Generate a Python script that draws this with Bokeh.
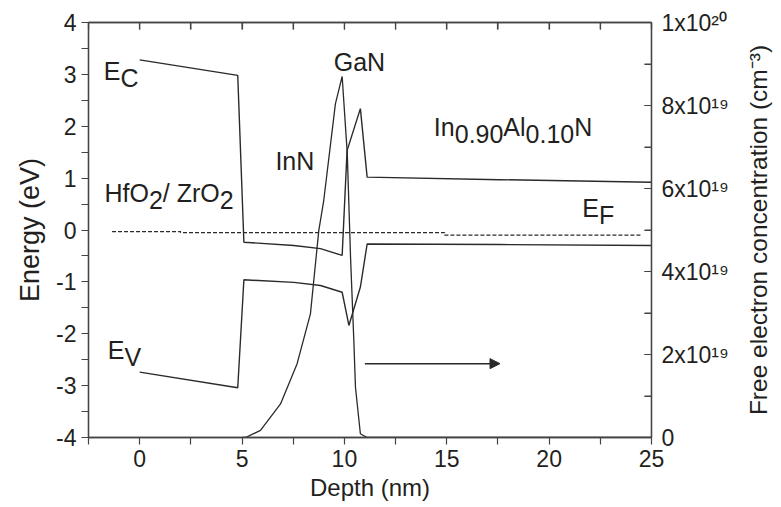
import math
from bokeh.plotting import figure
from bokeh.layouts import row
from bokeh.models import Range1d, LinearAxis, FixedTicker, Arrow, NormalHead, ColumnDataSource
from bokeh.embed import file_html
from bokeh.resources import INLINE
from bokeh.core.properties import value

# ---------------- data ----------------
# Conduction band edge E_C (eV) vs depth (nm)
ec_depth = [0.0, 4.79, 5.09, 7.53, 8.83, 9.89, 10.13, 10.78, 11.11, 17.6, 25.0]
ec_energy = [3.28, 2.98, -0.235, -0.30, -0.36, -0.49, 1.53, 2.34, 1.02, 0.97, 0.92]
# Valence band edge E_V (eV)
ev_depth = [0.0, 4.79, 5.09, 7.53, 8.83, 9.89, 10.22, 10.78, 11.11, 17.6, 25.0]
ev_energy = [-2.74, -3.04, -0.96, -1.01, -1.07, -1.20, -1.84, -1.10, -0.27, -0.28, -0.30]
# Fermi level E_F (eV), dashed
ef_depth = [-1.35, 2.0, 2.0, 14.9, 14.9, 24.5]
ef_energy = [-0.03, -0.03, -0.05, -0.05, -0.10, -0.10]
# Free electron concentration (cm^-3), right axis
n_depth = [5.0, 5.17, 5.90, 6.88, 7.69, 8.34, 8.75, 8.99, 9.56, 9.89,
           10.14, 10.30, 10.46, 10.54, 10.78, 11.11, 25.0]
n_conc = [0.0, 0.0, 0.17e19, 0.81e19, 1.78e19, 2.98e19, 4.99e19, 5.71e19, 8.04e19, 8.70e19,
          6.84e19, 4.34e19, 2.34e19, 1.21e19, 0.09e19, 0.0, 0.0]
# arrow pointing to the right axis
arrow_depth = [11.0, 17.6]
arrow_conc = [1.78e19, 1.78e19]

# axis ticks
x_ticks = [0, 5, 10, 15, 20, 25]
x_minor = [-2.5, 2.5, 7.5, 12.5, 17.5, 22.5]
y_ticks = [-4, -3, -2, -1, 0, 1, 2, 3, 4]
y_minor = [-3.5, -2.5, -1.5, -0.5, 0.5, 1.5, 2.5, 3.5]
y_labels = ["-4", "-3", "-2", "-1", "0", "1", "2", "3", "4"]
conc_scale = 1e19
r_ticks = [0, 2, 4, 6, 8, 10]
r_minor = [1, 3, 5, 7, 9]
r_labels = ["0", "2x10\u00b9\u2079", "4x10\u00b9\u2079", "6x10\u00b9\u2079",
            "8x10\u00b9\u2079", "1x10\u00b2\u2070"]

# in-plot labels: (depth, energy, [(text, is_subscript), ...])
labels = [
    (-1.75, 2.90, [("E", 0), ("C", 1)]),
    (-1.56, -2.48, [("E", 0), ("V", 1)]),
    (21.62, 0.25, [("E", 0), ("F", 1)]),
    (-1.72, 0.54, [("HfO", 0), ("2", 1), ("/ ZrO", 0), ("2", 1)]),
    (6.63, 1.15, [("InN", 0)]),
    (9.48, 3.06, [("GaN", 0)]),
    (14.37, 1.82, [("In", 0), ("0.90", 1), ("Al", 0), ("0.10", 1), ("N", 0)]),
]

# ---------------- style / layout ----------------
FONT = "Liberation Sans"
TXT = "#231f20"
LINE = "#2a2a2a"
AX = "#444444"
LABEL_PX = 25
TICK_PX = 23
SUB_SHIFT = 7
BASE_FIX = -9
TICK_LEN = 7
LEFT, TOP, BOTTOM, RIGHT = 88, 22, 58, 90
FW, FH = 563, 415
TITLE_W = 34

ARIAL_W = {'E': 667, 'C': 722, 'V': 667, 'F': 611, 'H': 722, 'f': 278, 'O': 778, '/': 278,
           ' ': 278, 'Z': 611, 'r': 333, 'I': 278, 'n': 556, 'A': 667, 'l': 222, 'N': 722,
           '.': 278, 'G': 778, 'a': 556, 'x': 500}


def text_width(s, px):
    return sum(ARIAL_W.get(ch, 556) for ch in s) / 1000.0 * px


p = figure(frame_width=FW, frame_height=FH, title=None,
           x_range=Range1d(-2.5, 25), y_range=Range1d(-4, 4),
           output_backend="svg", toolbar_location=None,
           min_border_left=LEFT, min_border_right=RIGHT, min_border_top=TOP,
           min_border_bottom=BOTTOM)
p.extra_y_ranges = {"conc": Range1d(0, 10)}
p.grid.visible = False
p.outline_line_color = AX
p.outline_line_width = 1.3
p.background_fill_color = "white"
p.border_fill_color = "white"


def style_axis(ax, tick_in, tick_out):
    ax.axis_line_color = AX
    ax.axis_line_width = 1.3
    ax.major_tick_line_color = AX
    ax.minor_tick_line_color = AX
    ax.major_tick_line_width = 1.2
    ax.minor_tick_line_width = 1.2
    ax.major_tick_in = tick_in
    ax.major_tick_out = tick_out
    ax.minor_tick_in = tick_in
    ax.minor_tick_out = tick_out
    ax.major_label_text_font = FONT
    ax.major_label_text_font_size = f"{TICK_PX}px"
    ax.major_label_text_color = TXT
    ax.axis_label_text_font = FONT
    ax.axis_label_text_font_size = "24px"
    ax.axis_label_text_font_style = "normal"
    ax.axis_label_text_color = TXT


xa = p.xaxis[0]
xa.ticker = FixedTicker(ticks=x_ticks, minor_ticks=x_minor)
xa.axis_label = "Depth (nm)"
style_axis(xa, 0, TICK_LEN)
xa.axis_label_standoff = 4

ya = p.yaxis[0]
ya.ticker = FixedTicker(ticks=y_ticks, minor_ticks=y_minor)
ya.major_label_overrides = {t: s for t, s in zip(y_ticks, y_labels)}
ya.axis_label = "Energy (eV)"
style_axis(ya, 0, TICK_LEN)
ya.axis_label_text_font_size = "27px"
ya.axis_label_standoff = 8

ra = LinearAxis(y_range_name="conc", ticker=FixedTicker(ticks=r_ticks, minor_ticks=r_minor))
style_axis(ra, TICK_LEN, 0)
ra.major_label_overrides = {t: s for t, s in zip(r_ticks, r_labels)}
ra.major_label_standoff = 10
p.add_layout(ra, "right")

ta = LinearAxis(ticker=FixedTicker(ticks=x_ticks, minor_ticks=x_minor))
style_axis(ta, TICK_LEN, 0)
ta.major_label_overrides = {t: "" for t in x_ticks}
ta.major_label_text_font_size = "1px"
ta.major_label_standoff = 0
p.add_layout(ta, "above")

# inward ticks on the right and top frame edges, drawn from the tick lists
r_all = sorted(r_ticks + r_minor)
p.ray(x=[25] * len(r_all), y=r_all, length=TICK_LEN, length_units="screen", angle=math.pi,
      y_range_name="conc", line_color=AX, line_width=1.2)
x_all = sorted(x_ticks + x_minor)
p.ray(x=x_all, y=[4] * len(x_all), length=TICK_LEN, length_units="screen",
      angle=-math.pi / 2, line_color=AX, line_width=1.2)

# ---------------- curves ----------------
p.line(ec_depth, ec_energy, line_color=LINE, line_width=1.4)
p.line(ev_depth, ev_energy, line_color=LINE, line_width=1.4)
p.line(ef_depth, ef_energy, line_color=LINE, line_width=1.2, line_dash="4 2")
p.line(n_depth, [c / conc_scale for c in n_conc], line_color=LINE, line_width=1.3,
       y_range_name="conc")

p.add_layout(Arrow(end=NormalHead(size=10, fill_color=LINE, line_color=LINE),
                   x_start=arrow_depth[0], y_start=arrow_conc[0] / conc_scale,
                   x_end=arrow_depth[1], y_end=arrow_conc[1] / conc_scale,
                   y_range_name="conc", line_color=LINE, line_width=1.5))

# ---------------- labels with subscripts ----------------
tx, ty, tt, tox, toy = [], [], [], [], []
for x0, y0, parts in labels:
    off = 0.0
    for s, sub in parts:
        tx.append(x0)
        ty.append(y0)
        tt.append(s)
        tox.append(off)
        toy.append(BASE_FIX + (SUB_SHIFT if sub else 0))
        off += text_width(s, LABEL_PX)
src = ColumnDataSource(dict(x=tx, y=ty, text=tt, xo=tox, yo=toy))
p.text(x="x", y="y", text="text", x_offset="xo", y_offset="yo", source=src,
       text_font=value(FONT), text_font_size=f"{LABEL_PX}px", text_color=TXT,
       text_align="left", text_baseline="alphabetic")

# ---------------- right strip: axis title reading bottom-to-top ----------------
p2 = figure(frame_width=TITLE_W, frame_height=FH, title=None,
            x_range=Range1d(0, TITLE_W), y_range=Range1d(0, 10),
            output_backend="svg", toolbar_location=None,
            min_border_left=0, min_border_right=0, min_border_top=0, min_border_bottom=0,
            x_axis_location=None, y_axis_location=None)
p2.grid.visible = False
p2.outline_line_color = None
p2.border_fill_color = "white"
p2.text(x=[17], y=[5], text=["Free electron concentration (cm\u207b\u00b3)"],
        angle=math.pi / 2, text_font=value(FONT), text_font_size="24.5px", text_color=TXT,
        text_align="center", text_baseline="middle")

layout = row(p, p2, spacing=0)
open("out.html", "w").write(file_html(layout, INLINE))
